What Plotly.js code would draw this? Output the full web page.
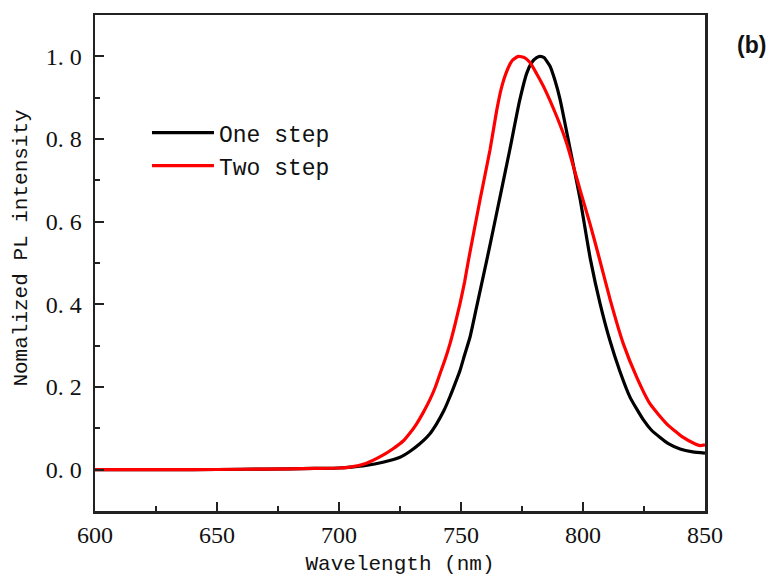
<!DOCTYPE html>
<html>
<head>
<meta charset="utf-8">
<script src="https://cdn.plot.ly/plotly-3.0.1.min.js"></script>
<style>html,body{margin:0;padding:0;background:#fff;}#chart{width:769px;height:581px;}</style>
</head>
<body>
<div id="chart"></div>
<script>
// Wavelength (nm) and normalized PL intensity
const oneStepWavelength = [600, 620, 640, 660, 680, 690, 700, 705, 711, 718, 725, 729, 733, 737, 740, 743, 745.5, 747.5, 749.6, 751.5, 753.7, 756.4, 760.5, 763, 766, 770, 774, 777, 779, 781, 782.4, 784, 786.5, 788.5, 790.6, 794.7, 798.8, 803, 807, 811, 815, 819.3, 824.7, 828, 831.6, 835, 839.8, 845, 850];
const oneStepIntensity  = [0, 0, 0, 0.001, 0.002, 0.003, 0.004, 0.006, 0.010, 0.018, 0.030, 0.044, 0.062, 0.085, 0.111, 0.143, 0.177, 0.207, 0.240, 0.278, 0.321, 0.394, 0.505, 0.575, 0.660, 0.774, 0.892, 0.960, 0.985, 0.997, 1.0, 0.997, 0.976, 0.942, 0.896, 0.776, 0.655, 0.510, 0.402, 0.313, 0.240, 0.175, 0.121, 0.096, 0.078, 0.063, 0.050, 0.043, 0.040];

const twoStepWavelength = [600, 620, 640, 660, 680, 690, 700, 704.5, 711, 718, 722, 726.4, 729, 731.8, 734.5, 737.3, 739.5, 741.4, 743.5, 745.5, 747.5, 749.6, 751.5, 753, 757.8, 761.9, 764.6, 766.5, 768.7, 771, 773.5, 776, 778.3, 781, 784, 789.2, 793.3, 798.8, 802.9, 806.3, 811.1, 816.5, 822, 827.5, 834.3, 841.1, 846, 848, 850];
const twoStepIntensity  = [0, 0, 0, 0.001, 0.002, 0.003, 0.004, 0.006, 0.015, 0.035, 0.050, 0.070, 0.088, 0.111, 0.138, 0.170, 0.200, 0.232, 0.267, 0.305, 0.350, 0.402, 0.455, 0.505, 0.653, 0.774, 0.868, 0.922, 0.963, 0.990, 1.0, 0.997, 0.985, 0.958, 0.925, 0.855, 0.790, 0.677, 0.594, 0.520, 0.412, 0.305, 0.224, 0.159, 0.111, 0.078, 0.062, 0.058, 0.060];

const seriesNames = ["One step", "Two step"];
const xTickVals = [600, 650, 700, 750, 800, 850];
const yTickVals = [0.0, 0.2, 0.4, 0.6, 0.8, 1.0];
const yTickLabels = ["0. 0", "0. 2", "0. 4", "0. 6", "0. 8", "1. 0"];
const xTitle = "Wavelength (nm)";
const yTitle = "Nomalized PL intensity";
const panelLabel = "(b)";

const traces = [
  {x: oneStepWavelength, y: oneStepIntensity, name: seriesNames[0], type: "scatter", mode: "lines",
   line: {color: "#000000", width: 3.2, shape: "spline", smoothing: 0.5}},
  {x: twoStepWavelength, y: twoStepIntensity, name: seriesNames[1], type: "scatter", mode: "lines",
   line: {color: "#ff0000", width: 3.2, shape: "spline", smoothing: 0.5}}
];

const axisCommon = {
  showgrid: false, zeroline: false, showline: true, linecolor: "#222", linewidth: 2.5,
  mirror: true, ticks: "inside", ticklen: 9, tickwidth: 2, tickcolor: "#222",
  tickfont: {family: "Liberation Serif, serif", size: 24, color: "#111"}
};

const layout = {
  width: 769, height: 581,
  margin: {l: 95, r: 64, t: 15, b: 70},
  paper_bgcolor: "#fff", plot_bgcolor: "#fff",
  showlegend: true,
  legend: {x: 0.0852, y: 0.806, xanchor: "left", yanchor: "top", bgcolor: "rgba(0,0,0,0)",
           itemwidth: 62,
           font: {family: "Liberation Mono, monospace", size: 23, color: "#111"}, tracegroupgap: 0},
  xaxis: Object.assign({}, axisCommon, {
    range: [600, 850], tickvals: xTickVals, ticklabelstandoff: 1,
    minor: {ticks: "inside", ticklen: 5, tickwidth: 2, tickcolor: "#222", dtick: 25},
    title: {text: xTitle, font: {family: "Liberation Mono, monospace", size: 21, color: "#111"}, standoff: 8}
  }),
  yaxis: Object.assign({}, axisCommon, {
    range: [-0.1, 1.1], tickvals: yTickVals, ticktext: yTickLabels, ticklabelstandoff: 6,
    minor: {ticks: "inside", ticklen: 5, tickwidth: 2, tickcolor: "#222", tickvals: [0.1, 0.3, 0.5, 0.7, 0.9]}
  }),
  annotations: [
    {text: yTitle, xref: "paper", yref: "paper", x: -0.1197, y: 0.531, textangle: -90, showarrow: false,
     xanchor: "center", yanchor: "middle",
     font: {family: "Liberation Mono, monospace", size: 21, color: "#111"}},
    {text: "<b>" + panelLabel + "</b>", xref: "paper", yref: "paper", x: 1.077, y: 0.94, showarrow: false,
     xanchor: "center", yanchor: "middle",
     font: {family: "Liberation Sans, Arial, sans-serif", size: 23, color: "#111"}}
  ]
};

Plotly.newPlot("chart", traces, layout, {displayModeBar: false, staticPlot: true});
</script>
</body>
</html>
